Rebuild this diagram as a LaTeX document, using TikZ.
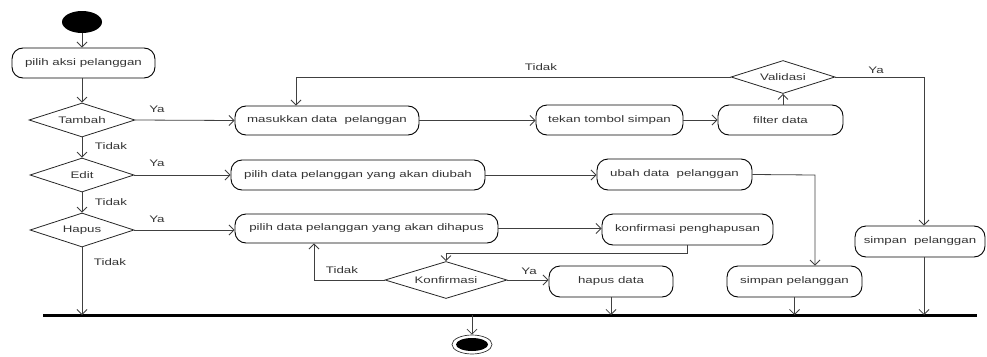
\documentclass[tikz,border=0pt]{standalone}
\usepackage{fontspec}
\setmainfont{Liberation Sans}[FakeStretch=1.4]
\usetikzlibrary{shapes.geometric,arrows.meta}
\tikzset{
  act/.style={draw=black, line width=0.9pt, rounded corners=11pt, inner sep=0pt, text=black!80, font=\fontsize{9.5}{11}\selectfont},
  dec/.style={draw=black!85, line width=0.8pt, diamond, inner sep=0pt, text=black!80, font=\fontsize{9.5}{11}\selectfont},
  lbl/.style={text=black!80, font=\fontsize{9.5}{11}\selectfont, inner sep=0pt},
  flow/.style={draw=black!75, line width=0.8pt, -{Straight Barb[length=5pt,width=10pt]}},
  bx/.style 2 args={minimum width=#1pt, minimum height=#2pt}
}
\begin{document}
\begin{tikzpicture}[x=1pt,y=-1pt]
\useasboundingbox (0,0) rectangle (987,356);
% start / end
\node[ellipse, fill=black, minimum width=40pt, minimum height=22pt, inner sep=0pt] (start) at (82,22) {};
\node[ellipse, draw=black!80, line width=0.7pt, minimum width=40pt, minimum height=19pt, inner sep=0pt] (end) at (472,344.5) {};
\node[ellipse, fill=black, minimum width=32pt, minimum height=13pt, inner sep=0pt] (endin) at (472,344.5) {};
% activities
\node[act, bx={143}{30}] (a1) at (83.5,63) {pilih aksi pelanggan};
\node[act, bx={184}{29}] (b1) at (327,120.5) {masukkan data\ \ pelanggan};
\node[act, bx={147}{30}] (b2) at (609.5,120) {tekan tombol simpan};
\node[act, bx={125}{30}] (b3) at (780.5,120) {filter data};
\node[act, bx={130}{31}] (b4) at (920,241.5) {simpan\ \ pelanggan};
\node[act, bx={254}{30}] (c1) at (358,175) {pilih data pelanggan yang akan diubah};
\node[act, bx={155}{31}] (c2) at (674.5,174.5) {ubah data\ \ pelanggan};
\node[act, bx={135}{31}] (c3) at (794.5,281.5) {simpan pelanggan};
\node[act, bx={263}{29}] (e1) at (366.5,228.5) {pilih data pelanggan yang akan dihapus};
\node[act, bx={171}{31}] (e2) at (687.5,229.5) {konfirmasi penghapusan};
\node[act, bx={124}{31}] (e3) at (611,281.5) {hapus data};
% decisions
\node[dec, aspect=3.1, bx={106}{34}] (d1) at (82,120) {Tambah};
\node[dec, aspect=3.1, bx={104}{34}] (d2) at (82,175) {Edit};
\node[dec, aspect=3.1, bx={104}{34}] (d3) at (82,230) {Hapus};
\node[dec, aspect=3.1, bx={104}{33}] (d4) at (783,77) {Validasi};
\node[dec, aspect=3.3, bx={122}{37}] (d5) at (446,280) {Konfirmasi};
% sync bar
\coordinate (barL) at (43,315);
\coordinate (barR) at (977,315);
\draw[line width=3pt, black] (barL) -- (barR);
% bend points
\coordinate (p1) at (296,77);
\coordinate (p2) at (924,77);
\coordinate (p3) at (815,175);
\coordinate (p4) at (687,253);
\coordinate (p5) at (446,253);
\coordinate (p6) at (314,280);
% flows
\draw[flow] (start) -- (start |- a1.north);
\draw[flow] (a1.south -| d1.north) -- (d1.north);
\draw[flow] (d1.east) -- (b1.west);
\draw[flow] (d1.south) -- (d2.north);
\draw[flow] (d2.east) -- (d2.east -| c1.west);
\draw[flow] (d2.south) -- (d3.north);
\draw[flow] (d3.east) -- (d3.east -| e1.west);
\draw[flow] (d3.south) -- (d3.south |- barL);
\draw[flow] (b1.east) -- (b1.east -| b2.west);
\draw[flow] (b2.east) -- (b2.east -| b3.west);
\draw[flow] (b3.north -| d4.south) -- (d4.south);
\draw[flow] (d4.west) -- (p1) -- (p1 |- b1.north);
\draw[flow] (d4.east) -- (p2) -- (p2 |- b4.north);
\draw[flow] (p2 |- b4.south) -- (p2 |- barL);
\draw[flow] (c1.east) -- (c1.east -| c2.west);
\draw[flow] (c2.east) -- (p3) -- (p3 |- c3.north);
\draw[flow] (c3.south) -- (c3.south |- barL);
\draw[flow] (e1.east) -- (e1.east -| e2.west);
\draw[flow] (p4 |- e2.south) -- (p4) -- (p5) -- (d5.north);
\draw[flow] (d5.west) -- (p6) -- (p6 |- e1.south);
\draw[flow] (d5.east) -- (d5.east -| e3.west);
\draw[flow] (e3.south) -- (e3.south |- barL);
\draw[flow] (end |- barL) -- (end.north);
% labels
\node[lbl] (l1) at (157,109) {Ya};
\node[lbl] (l2) at (111,146) {Tidak};
\node[lbl] (l3) at (157,163) {Ya};
\node[lbl] (l4) at (111,202) {Tidak};
\node[lbl] (l5) at (157,219) {Ya};
\node[lbl] (l6) at (110,262) {Tidak};
\node[lbl] (l7) at (541,67) {Tidak};
\node[lbl] (l8) at (876,70) {Ya};
\node[lbl] (l9) at (342,270) {Tidak};
\node[lbl] (l10) at (529,271) {Ya};
\end{tikzpicture}
\end{document}
